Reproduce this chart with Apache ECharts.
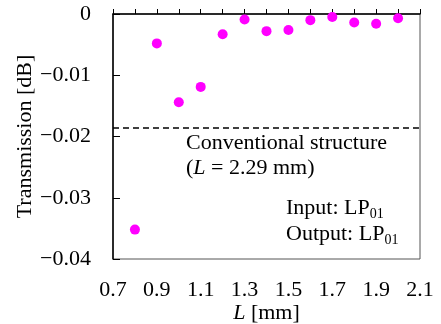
<!DOCTYPE html>
<html>
<head>
<meta charset="utf-8">
<script src="https://cdn.jsdelivr.net/npm/echarts@6/dist/echarts.min.js"></script>
<style>
  html, body { margin: 0; padding: 0; background: #fff; }
  #chart { width: 441px; height: 324px; }
</style>
</head>
<body>
<div id="chart"></div>
<script>
// lengths L [mm] and measured transmission [dB]
const lengths = [0.8, 0.9, 1.0, 1.1, 1.2, 1.3, 1.4, 1.5, 1.6, 1.7, 1.8, 1.9, 2.0];
const transmission = [-0.0352, -0.0048, -0.0144, -0.0119, -0.0033, -0.0009, -0.0028, -0.0026, -0.0010, -0.0005, -0.0014, -0.0016, -0.0007];
const conventional = -0.0185;

const FONT = '"Liberation Serif", "DejaVu Serif", serif';
const chart = echarts.init(document.getElementById('chart'), null, { renderer: 'canvas' });

const points = lengths.map((x, i) => [x, transmission[i]]);

const option = {
  animation: false,
  backgroundColor: '#fff',
  textStyle: { fontFamily: FONT },
  grid: {
    left: 113, right: 21, top: 14, bottom: 65,
    outerBoundsMode: 'none',
    containLabel: false,
    show: true, borderColor: '#555', borderWidth: 1
  },
  xAxis: {
    type: 'value',
    min: 0.7, max: 2.1, interval: 0.2,
    name: '{i|L} [mm]',
    nameLocation: 'middle',
    nameGap: 43,
    nameMoveOverlap: false,
    nameTextStyle: {
      fontFamily: FONT, fontSize: 22, color: '#000',
      rich: { i: { fontFamily: FONT, fontSize: 22, fontStyle: 'italic', color: '#000' } }
    },
    axisLine: { lineStyle: { color: '#000', width: 1.5 } },
    axisTick: { inside: true, length: 5, lineStyle: { color: '#000' } },
    minorTick: { show: true, splitNumber: 2, length: 5, lineStyle: { color: '#000' } },
    splitLine: { show: false },
    axisLabel: {
      margin: 20, fontSize: 22, color: '#000', fontFamily: FONT,
      formatter: v => v.toFixed(1)
    }
  },
  yAxis: {
    type: 'value',
    min: -0.04, max: 0, interval: 0.01,
    name: 'Transmission [dB]',
    nameLocation: 'middle',
    nameGap: 77,
    nameMoveOverlap: false,
    nameTextStyle: { fontFamily: FONT, fontSize: 22, color: '#000' },
    axisLine: { lineStyle: { color: '#000', width: 1.5 } },
    axisTick: { inside: true, length: 7, lineStyle: { color: '#000' } },
    splitLine: { show: false },
    axisLabel: {
      margin: 22, fontSize: 22, color: '#000', fontFamily: FONT,
      formatter: v => (Math.abs(v) < 1e-9 ? '0' : '\u2212' + Math.abs(v).toFixed(2))
    }
  },
  series: [{
    type: 'scatter',
    data: points,
    symbolSize: 10,
    itemStyle: { color: '#ff00ff', opacity: 1 },
    markLine: {
      silent: true,
      precision: 4,
      symbol: ['none', 'none'],
      label: { show: false },
      lineStyle: { color: '#000', width: 1.5, type: [6, 4] },
      data: [{ yAxis: conventional }]
    }
  }],
  graphic: [
    {
      type: 'text', left: 186, top: 132,
      style: { text: 'Conventional structure', font: '22px ' + FONT, fill: '#000' }
    },
    {
      type: 'text', left: 186, top: 157,
      style: {
        text: '({i|L} = 2.29 mm)', font: '22px ' + FONT, fill: '#000',
        rich: { i: { fontStyle: 'italic', fontFamily: FONT, fontSize: 22, fill: '#000' } }
      }
    },
    {
      type: 'text', left: 286, top: 195,
      style: {
        text: 'Input: LP{s|01}', font: '22px ' + FONT, fill: '#000', lineHeight: 26,
        rich: { s: { fontFamily: FONT, fontSize: 14, fill: '#000', verticalAlign: 'bottom', lineHeight: 26, padding: [8, 0, 0, 0] } }
      }
    },
    {
      type: 'text', left: 286, top: 221,
      style: {
        text: 'Output: LP{s|01}', font: '22px ' + FONT, fill: '#000', lineHeight: 26,
        rich: { s: { fontFamily: FONT, fontSize: 14, fill: '#000', verticalAlign: 'bottom', lineHeight: 26, padding: [8, 0, 0, 0] } }
      }
    }
  ]
};

chart.setOption(option);
</script>
</body>
</html>
